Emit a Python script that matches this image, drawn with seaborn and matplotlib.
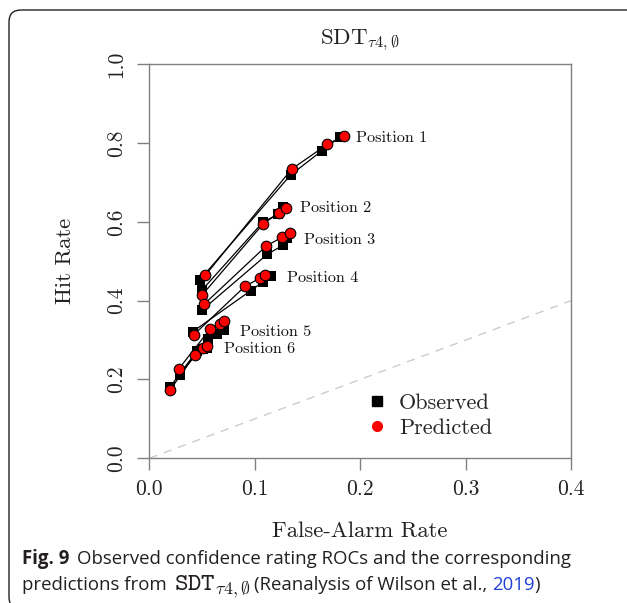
import numpy as np
import pandas as pd
import matplotlib.pyplot as plt
import seaborn as sns
from matplotlib.lines import Line2D
from matplotlib.patches import FancyBboxPatch
from matplotlib.transforms import IdentityTransform
from matplotlib.ticker import FormatStrFormatter

# ROC points per lineup position (4 cumulative confidence criteria each)
positions = ["Position 1", "Position 2", "Position 3", "Position 4", "Position 5", "Position 6"]

obs_fa = [
    [0.048, 0.134, 0.164, 0.181],
    [0.050, 0.108, 0.122, 0.127],
    [0.050, 0.112, 0.127, 0.131],
    [0.041, 0.096, 0.108, 0.115],
    [0.029, 0.056, 0.064, 0.0705],
    [0.020, 0.045, 0.051, 0.055],
]
obs_hit = [
    [0.453, 0.719, 0.781, 0.816],
    [0.427, 0.600, 0.619, 0.638],
    [0.376, 0.518, 0.541, 0.558],
    [0.321, 0.425, 0.448, 0.462],
    [0.211, 0.304, 0.316, 0.325],
    [0.182, 0.272, 0.277, 0.281],
]
pred_fa = [
    [0.053, 0.135, 0.169, 0.185],
    [0.050, 0.108, 0.123, 0.130],
    [0.052, 0.111, 0.126, 0.133],
    [0.042, 0.091, 0.105, 0.110],
    [0.028, 0.058, 0.067, 0.071],
    [0.020, 0.043, 0.051, 0.0545],
]
pred_hit = [
    [0.464, 0.734, 0.797, 0.819],
    [0.414, 0.595, 0.623, 0.636],
    [0.391, 0.539, 0.561, 0.571],
    [0.313, 0.437, 0.457, 0.464],
    [0.227, 0.329, 0.342, 0.348],
    [0.174, 0.263, 0.280, 0.285],
]


def to_long(fa, hit):
    rows = []
    for name, xs, ys in zip(positions, fa, hit):
        for x, y in zip(xs, ys):
            rows.append({"position": name, "fa": x, "hit": y})
    return pd.DataFrame(rows)


obs = to_long(obs_fa, obs_hit)
pred = to_long(pred_fa, pred_hit)

sns.set_theme(style="white")
plt.rcParams["font.family"] = ["cmr10", "DejaVu Serif"]
plt.rcParams["mathtext.fontset"] = "cm"
plt.rcParams["axes.formatter.use_mathtext"] = True
plt.rcParams["axes.unicode_minus"] = False

fig = plt.figure(figsize=(6.27, 6.03), dpi=100)
ax = fig.add_axes([0.2381, 0.240, 0.6726, 0.6534])

axis_grey = "#808080"

# chance line
ax.plot([0, 0.4], [0, 0.4], ls=(0, (6, 5)), color="#cccccc", lw=1, zorder=1)

sns.lineplot(data=obs, x="fa", y="hit", units="position", estimator=None, sort=False,
             color="black", lw=0.9, ax=ax, zorder=2)
sns.lineplot(data=pred, x="fa", y="hit", units="position", estimator=None, sort=False,
             color="black", lw=0.9, ax=ax, zorder=2)
sns.scatterplot(data=obs, x="fa", y="hit", marker="s", color="black", s=46,
                linewidth=0, ax=ax, zorder=3, legend=False)
sns.scatterplot(data=pred, x="fa", y="hit", marker="o", color="#ff0000", s=58,
                edgecolor="black", linewidth=0.8, ax=ax, zorder=4, legend=False)

# position labels sit just right of the last observed point
for name, xs, ys in zip(positions, obs_fa, obs_hit):
    ax.text(xs[-1] + 0.0155, ys[-1] - 0.004, name, fontsize=11.7, ha="left", va="center",
            color="#111111")

ax.set_xlim(0, 0.4)
ax.set_ylim(0, 1.0)
ax.set_xticks(np.arange(0, 0.41, 0.1))
ax.set_yticks(np.arange(0, 1.01, 0.2))
ax.xaxis.set_major_formatter(FormatStrFormatter("%.1f"))
ax.yaxis.set_major_formatter(FormatStrFormatter("%.1f"))
ax.tick_params(direction="out", length=8.5, width=1, color=axis_grey,
               labelsize=15.5, labelcolor="#222222", bottom=True, left=True)
ax.tick_params(axis="x", pad=7)
ax.tick_params(axis="y", pad=8)
plt.setp(ax.get_yticklabels(), rotation=90, va="center")
for sp in ax.spines.values():
    sp.set_color(axis_grey)
    sp.set_linewidth(1)

ax.set_xlabel("False-Alarm Rate", fontsize=16.3, labelpad=16, color="#222222")
ax.set_ylabel("Hit Rate", fontsize=16.3, labelpad=23, color="#222222")
ax.text(0.5, 1.052, r"$\mathrm{SDT}_{\tau 4,\emptyset}$", transform=ax.transAxes,
        ha="center", va="baseline", fontsize=16.5, color="#222222")

handles = [
    Line2D([], [], ls="none", marker="s", color="black", markersize=6.5),
    Line2D([], [], ls="none", marker="o", color="#ff0000", markersize=7),
]
ax.legend(handles, ["Observed", "Predicted"], loc="upper left",
          bbox_to_anchor=(0.482, 0.205), frameon=False, fontsize=16,
          handlelength=0.8, handletextpad=0.6, labelspacing=0.25, borderpad=0.2)

# page frame around the figure
frame = FancyBboxPatch((9, -6), 700, 599, boxstyle="round,pad=0,rounding_size=12",
                       transform=IdentityTransform(), fill=False, lw=1, ec="#222222")
fig.add_artist(frame)

# caption below the figure
fig.canvas.draw()
rend = fig.canvas.get_renderer()
cap_color = "#231f20"
cap_font = ["Open Sans", "DejaVu Sans"]


def put(x, y, s, size=13.4, **kw):
    t = fig.text(x, y, s, transform=IdentityTransform(), va="baseline", fontsize=size, **kw)
    return t.get_window_extent(renderer=rend).x1


x = put(21.7, 603 - 564, "Fig. 9", family=cap_font, weight="bold", color=cap_color)
put(x + 8, 603 - 564, "Observed confidence rating ROCs and the corresponding",
    family=cap_font, color=cap_color)
x = put(21.7, 603 - 590, "predictions from ", family=cap_font, color=cap_color)
x = put(x + 3, 603 - 590, r"$\mathtt{SDT}_{\tau 4,\emptyset}$", size=18.5, color=cap_color)
x = put(x + 3, 603 - 590, "(Reanalysis of Wilson et al., ", family=cap_font, color=cap_color)
x = put(x, 603 - 590, "2019", family=cap_font, color="#1f3fd6")
put(x, 603 - 590, ")", family=cap_font, color=cap_color)

fig.savefig("out.png", dpi=100)
